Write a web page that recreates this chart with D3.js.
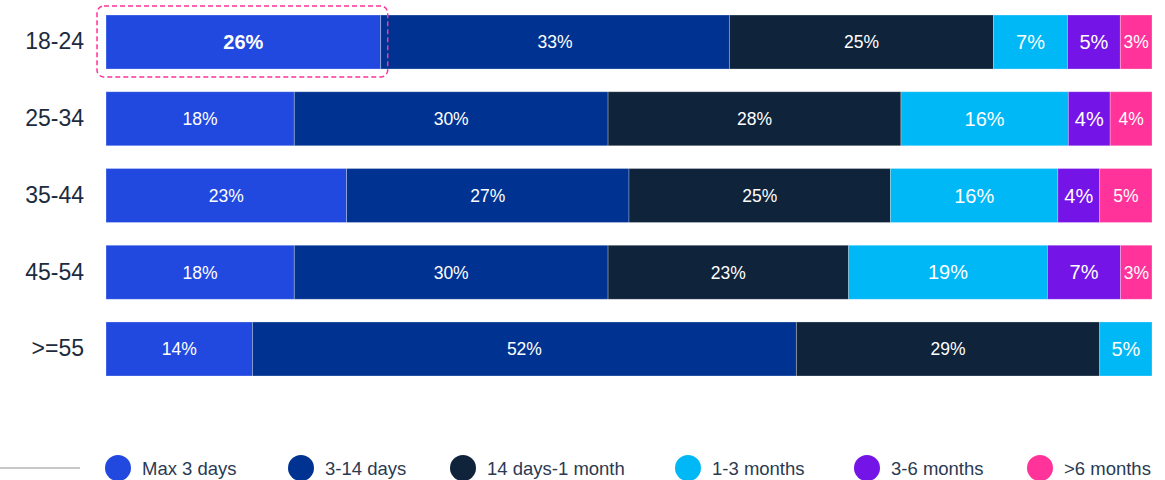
<!DOCTYPE html>
<html>
<head>
<meta charset="utf-8">
<script src="https://cdn.jsdelivr.net/npm/d3@7/dist/d3.min.js"></script>
<style>
  html, body { margin: 0; padding: 0; background: #fff; }
  svg { display: block; font-family: "Liberation Sans", Arial, sans-serif; }
</style>
</head>
<body>
<svg id="chart" width="1165" height="480"></svg>
<script>
// Age groups (rows) and duration buckets (stacked segments)
const ageGroups = ["18-24", "25-34", "35-44", "45-54", ">=55"];
const buckets = ["Max 3 days", "3-14 days", "14 days-1 month", "1-3 months", "3-6 months", ">6 months"];
const bucketColors = ["#2149e0", "#003391", "#0f233b", "#00b8f5", "#7414e6", "#ff3399"];

// Share of respondents (%) per bucket, one array per bucket, ordered like ageGroups
const maxThreeDays     = [26, 18, 23, 18, 14];
const threeToFourteen  = [33, 30, 27, 30, 52];
const twoWeeksToMonth  = [25, 28, 25, 23, 29];
const oneToThreeMonths = [7, 16, 16, 19, 5];
const threeToSixMonths = [5, 4, 4, 7, 0];
const overSixMonths    = [3, 4, 5, 3, 0];

const seriesValues = [maxThreeDays, threeToFourteen, twoWeeksToMonth, oneToThreeMonths, threeToSixMonths, overSixMonths];

const rows = ageGroups.map((g, i) => {
  const r = { group: g };
  buckets.forEach((b, j) => { r[b] = seriesValues[j][i]; });
  return r;
});

const svg = d3.select("#chart");
const margin = { left: 106, right: 13 };
const width = 1165;

const x = d3.scaleLinear().domain([0, 1]).range([margin.left, width - margin.right]);
const y = d3.scaleBand().domain(ageGroups).range([15, 376]).paddingInner(0.296).paddingOuter(0);

// Each row is shown as a full-width bar (shares of the row total)
const stack = d3.stack().keys(buckets).offset(d3.stackOffsetExpand);
const stacked = stack(rows);

const color = d3.scaleOrdinal().domain(buckets).range(bucketColors);
const largeLabelKeys = new Set(["1-3 months", "3-6 months"]);
const isHighlight = d => d.group === "18-24" && d.key === "Max 3 days";

const segs = d => d.map(v => ({ key: d.key, v, value: v.data[d.key], group: v.data.group })).filter(s => s.value > 0);

const layers = svg.append("g").selectAll("g")
  .data(stacked)
  .join("g")
  .attr("fill", d => color(d.key));

layers.selectAll("rect")
  .data(segs)
  .join("rect")
  .attr("x", d => x(d.v[0]))
  .attr("y", d => y(d.group))
  .attr("width", d => x(d.v[1]) - x(d.v[0]))
  .attr("height", y.bandwidth())
  .attr("stroke", "rgba(255,255,255,0.35)")
  .attr("stroke-width", 0.8);

// Value labels inside segments
layers.selectAll("text")
  .data(segs)
  .join("text")
  .attr("x", d => (x(d.v[0]) + x(d.v[1])) / 2)
  .attr("y", d => y(d.group) + y.bandwidth() / 2)
  .attr("dy", "0.36em")
  .attr("text-anchor", "middle")
  .attr("fill", "#fff")
  .attr("font-size", d => isHighlight(d) ? 20 : (largeLabelKeys.has(d.key) ? 20 : 17.5))
  .attr("font-weight", d => isHighlight(d) ? "bold" : "normal")
  .text(d => d.value + "%");

// Row labels
const yAxis = d3.axisLeft(y).tickSize(0).tickPadding(22);
const yg = svg.append("g").attr("transform", `translate(${margin.left},0)`).call(yAxis);
yg.select(".domain").remove();
yg.selectAll("text")
  .attr("font-size", 23)
  .attr("font-family", "Liberation Sans, Arial, sans-serif")
  .attr("fill", "#1c2b3d");

// Dashed highlight around the leading segment of the first row
const firstSeg = stacked[0][0];
svg.append("rect")
  .attr("x", x(firstSeg[0]) - 9)
  .attr("y", y("18-24") - 9)
  .attr("width", x(firstSeg[1]) - x(firstSeg[0]) + 16)
  .attr("height", y.bandwidth() + 17)
  .attr("rx", 7)
  .attr("fill", "none")
  .attr("stroke", "#ff3399")
  .attr("stroke-width", 1.5)
  .attr("stroke-dasharray", "5,3");

// Legend
const legendY = 468;
svg.append("line")
  .attr("x1", 0).attr("x2", 80)
  .attr("y1", legendY).attr("y2", legendY)
  .attr("stroke", "#c8c8c8").attr("stroke-width", 2);

const legendX = [118, 301, 463, 688, 867, 1040];
const legend = svg.append("g").selectAll("g")
  .data(buckets)
  .join("g")
  .attr("transform", (d, i) => `translate(${legendX[i]},${legendY})`);

legend.append("circle")
  .attr("r", 13)
  .attr("fill", d => color(d));

legend.append("text")
  .attr("x", 24)
  .attr("dy", "0.36em")
  .attr("font-size", 18.5)
  .attr("fill", "#2a3a52")
  .text(d => d);
</script>
</body>
</html>
